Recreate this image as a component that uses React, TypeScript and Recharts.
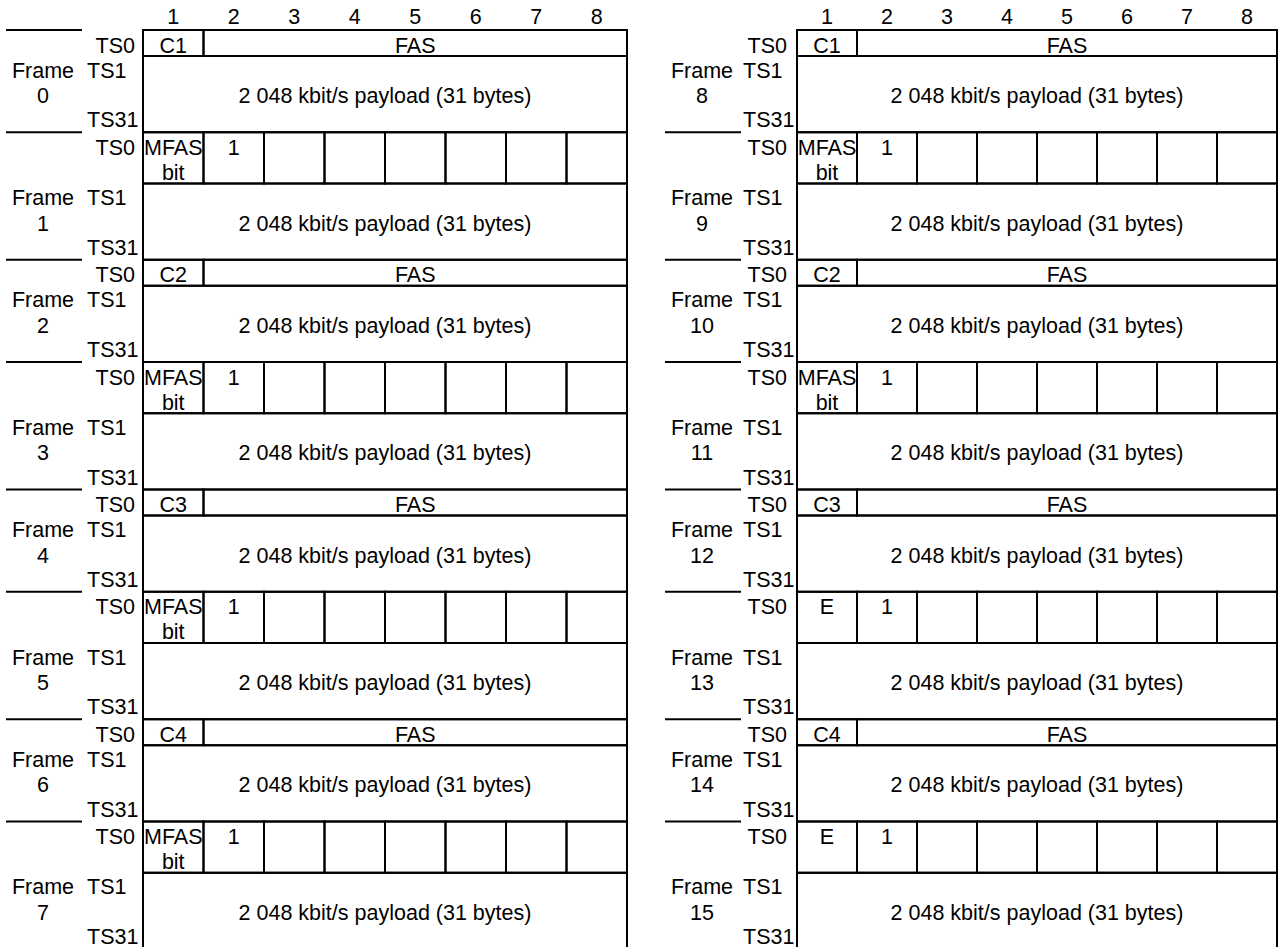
import { ComposedChart, XAxis, YAxis, Scatter, ReferenceArea, ReferenceLine } from "recharts";

const W = 1281;
const H = 947;

// bit positions across the top of each half
const bitLabels = ["1", "2", "3", "4", "5", "6", "7", "8"];

// frames in each half of the CRC-4 multiframe
const leftFrames = [0, 1, 2, 3, 4, 5, 6, 7];
const rightFrames = [8, 9, 10, 11, 12, 13, 14, 15];

// content of bit 1 of TS0 per frame
const leftTs0 = ["C1", "MFAS bit", "C2", "MFAS bit", "C3", "MFAS bit", "C4", "MFAS bit"];
const rightTs0 = ["C1", "MFAS bit", "C2", "MFAS bit", "C3", "E", "C4", "E"];

const fasLabel = "FAS";
const nfasBit2 = "1";
const payloadLabel = "2 048 kbit/s payload (31 bytes)";

// layout (pixels)
const TOP = 30;
const FAS_TS0 = 26;
const NFAS_TS0 = 51.25;
const PAYLOAD = 76.25;
const FONT = "'Liberation Sans', Arial, sans-serif";
const FONT_SIZE = 21.5;

const panels = [
  { frames: leftFrames, ts0: leftTs0, boxX: 143, bitW: 60.5, frameX: 43, tsX: 87, ts0X: 135, sep: [6, 82], sepFirst: true },
  { frames: rightFrames, ts0: rightTs0, boxX: 797, bitW: 60, frameX: 702, tsX: 743, ts0X: 787, sep: [665, 741], sepFirst: false },
];

type Txt = { x: number; y: number; text: string; anchor: string };
type Box = { x1: number; x2: number; y1: number; y2: number };
type Seg = { x1: number; x2: number; y: number };

const texts: Txt[] = [];
const boxes: Box[] = [];
const segs: Seg[] = [];

panels.forEach((pn) => {
  const { boxX, bitW } = pn;
  bitLabels.forEach((b, i) => texts.push({ x: boxX + (i + 0.5) * bitW, y: 24, text: b, anchor: "middle" }));

  let t = TOP;
  pn.frames.forEach((f, i) => {
    const fas = i % 2 === 0;
    const ts0H = fas ? FAS_TS0 : NFAS_TS0;
    const p = t + ts0H;

    if (i > 0 || pn.sepFirst) segs.push({ x1: pn.sep[0], x2: pn.sep[1], y: t });

    texts.push({ x: pn.ts0X, y: t + 22.5, text: "TS0", anchor: "end" });
    pn.ts0[i].split(" ").forEach((line, k) =>
      texts.push({ x: boxX + 0.5 * bitW, y: t + 22.5 + k * 25, text: line, anchor: "middle" })
    );

    if (fas) {
      boxes.push({ x1: boxX, x2: boxX + bitW, y1: t, y2: p });
      boxes.push({ x1: boxX + bitW, x2: boxX + 8 * bitW, y1: t, y2: p });
      texts.push({ x: boxX + 4.5 * bitW, y: t + 22.5, text: fasLabel, anchor: "middle" });
    } else {
      bitLabels.forEach((_, k) => boxes.push({ x1: boxX + k * bitW, x2: boxX + (k + 1) * bitW, y1: t, y2: p }));
      texts.push({ x: boxX + 1.5 * bitW, y: t + 22.5, text: nfasBit2, anchor: "middle" });
    }

    boxes.push({ x1: boxX, x2: boxX + 8 * bitW, y1: p, y2: p + PAYLOAD });
    texts.push({ x: pn.tsX, y: p + 21.5, text: "TS1", anchor: "start" });
    texts.push({ x: pn.frameX, y: p + 21.5, text: "Frame", anchor: "middle" });
    texts.push({ x: pn.frameX, y: p + 47, text: String(f), anchor: "middle" });
    texts.push({ x: boxX + 4 * bitW, y: p + 47, text: payloadLabel, anchor: "middle" });
    texts.push({ x: pn.tsX, y: p + PAYLOAD - 5, text: "TS31", anchor: "start" });

    t = p + PAYLOAD;
  });
});

const Label = (props: any) => {
  const { cx, cy, payload } = props;
  return (
    <text x={cx} y={cy} textAnchor={payload.anchor} fontSize={FONT_SIZE} fontFamily={FONT} fill="#000">
      {payload.text}
    </text>
  );
};

export default function App() {
  return (
    <div style={{ position: "absolute", left: 0, top: 0, width: W, height: H, background: "#fff" }}>
      <ComposedChart width={W} height={H} margin={{ top: 0, right: 0, bottom: 0, left: 0 }}>
        <XAxis type="number" dataKey="x" domain={[0, W]} hide allowDataOverflow />
        <YAxis type="number" dataKey="y" domain={[0, H]} reversed hide allowDataOverflow />
        {boxes.map((b, i) => (
          <ReferenceArea
            key={"b" + i}
            x1={b.x1}
            x2={b.x2}
            y1={b.y1}
            y2={b.y2}
            fill="none"
            stroke="#000"
            strokeWidth={2}
            ifOverflow="visible"
          />
        ))}
        {segs.map((s, i) => (
          <ReferenceLine
            key={"s" + i}
            segment={[{ x: s.x1, y: s.y }, { x: s.x2, y: s.y }]}
            stroke="#000"
            strokeWidth={2}
            ifOverflow="visible"
          />
        ))}
        <Scatter data={texts} dataKey="y" shape={Label} isAnimationActive={false} />
      </ComposedChart>
    </div>
  );
}
